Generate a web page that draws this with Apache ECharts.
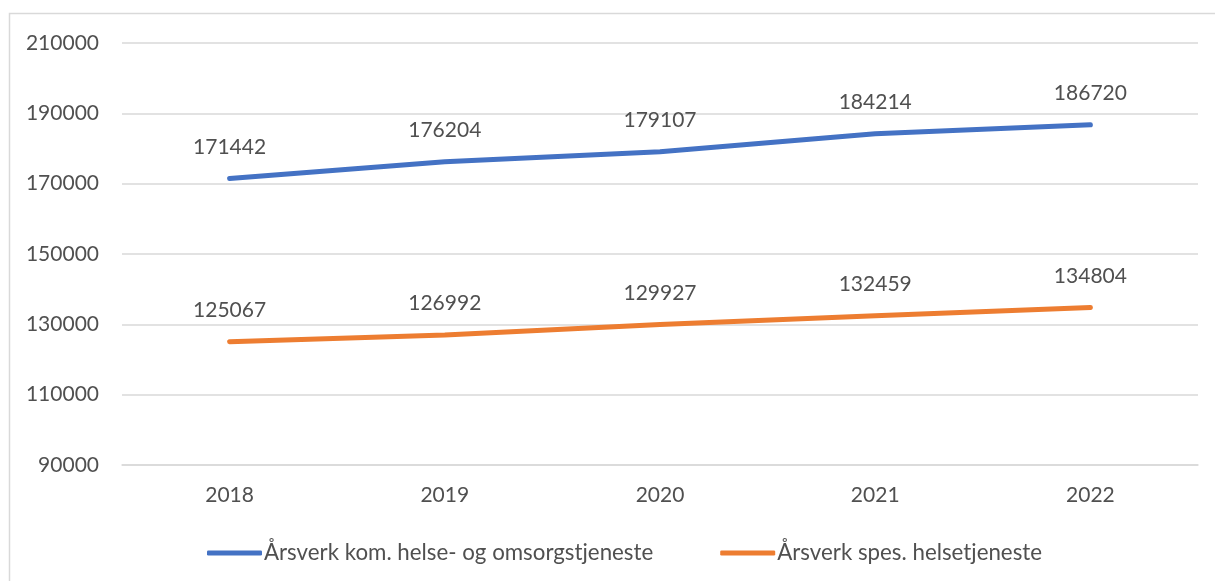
<!DOCTYPE html>
<html><head><meta charset="utf-8">
<script src="https://cdn.jsdelivr.net/npm/echarts@6/dist/echarts.min.js"></script>
<style>html,body{margin:0;padding:0;background:#fff}#c{width:1215px;height:581px}</style>
</head><body><div id="c"></div>
<script>
var categories = ['2018', '2019', '2020', '2021', '2022'];
var komValues = [171442, 176204, 179107, 184214, 186720];
var spesValues = [125067, 126992, 129927, 132459, 134804];
var seriesNames = ['Årsverk kom. helse- og omsorgstjeneste', 'Årsverk spes. helsetjeneste'];
var yTicks = [90000, 110000, 130000, 150000, 170000, 190000, 210000];

var font = 'Lato, "Open Sans", sans-serif';
var txt = '#505050';
var chart = echarts.init(document.getElementById('c'), null, {renderer: 'canvas'});
chart.setOption({
  animation: false,
  textStyle: {fontFamily: font},
  graphic: [{type: 'rect', shape: {x: 9.5, y: 13.5, width: 1300, height: 700},
    style: {fill: 'none', stroke: '#d9d9d9', lineWidth: 1.5}, silent: true}],
  grid: {left: 122, right: 17, top: 43, bottom: 116},
  legend: {
    left: 202, top: 537, itemWidth: 55, itemHeight: 5, itemGap: 67, icon: 'roundRect',
    textStyle: {fontFamily: font, fontSize: 22.3, color: txt, padding: [0, 0, 0, -3]},
    data: seriesNames
  },
  xAxis: {
    type: 'category', data: categories, boundaryGap: true,
    axisLine: {show: true, lineStyle: {color: '#d9d9d9', width: 1.5}},
    axisTick: {show: false},
    axisLabel: {color: txt, fontSize: 21, fontFamily: font, margin: 20}
  },
  yAxis: {
    type: 'value', min: yTicks[0], max: yTicks[yTicks.length - 1], interval: 20000,
    axisLine: {show: false}, axisTick: {show: false},
    axisLabel: {color: txt, fontSize: 21, fontFamily: font, margin: 23,
      formatter: function (v) { return String(v); }},
    splitLine: {lineStyle: {color: '#d9d9d9', width: 1.5}}
  },
  series: [
    {name: seriesNames[0], type: 'line', data: komValues, showSymbol: true, symbol: 'circle', symbolSize: 0,
     lineStyle: {color: '#4472C4', width: 5, cap: 'round'}, itemStyle: {color: '#4472C4'},
     label: {show: true, position: 'top', distance: 21, color: txt, fontSize: 21, fontFamily: font}},
    {name: seriesNames[1], type: 'line', data: spesValues, showSymbol: true, symbol: 'circle', symbolSize: 0,
     lineStyle: {color: '#ED7D31', width: 5, cap: 'round'}, itemStyle: {color: '#ED7D31'},
     label: {show: true, position: 'top', distance: 21, color: txt, fontSize: 21, fontFamily: font}}
  ]
});
</script></body></html>
